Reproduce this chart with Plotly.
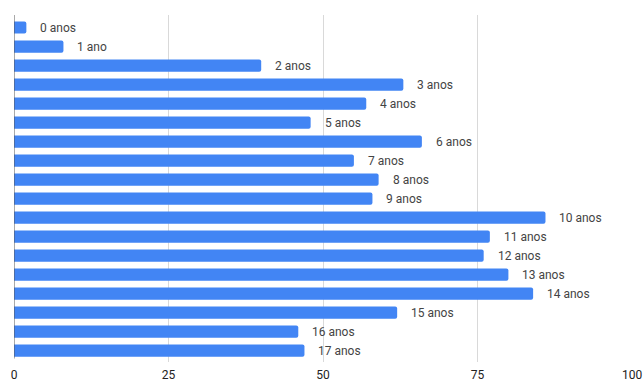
import plotly.graph_objects as go

# Idade (em anos) e contagem por idade
labels = ["0 anos", "1 ano", "2 anos", "3 anos", "4 anos", "5 anos", "6 anos",
          "7 anos", "8 anos", "9 anos", "10 anos", "11 anos", "12 anos",
          "13 anos", "14 anos", "15 anos", "16 anos", "17 anos"]
values = [2, 8, 40, 63, 57, 48, 66, 55, 59, 58, 86, 77, 76, 80, 84, 62, 46, 47]
x_ticks = [0, 25, 50, 75, 100]

positions = list(range(len(labels)))

fig = go.Figure()
fig.add_trace(go.Bar(
    x=values,
    y=positions,
    orientation="h",
    width=0.64,
    marker=dict(color="#4285F4", line=dict(width=0), cornerradius=2),
    hoverinfo="skip",
))

# Rótulo de cada barra, logo à direita da sua ponta
for pos, val, lab in zip(positions, values, labels):
    fig.add_annotation(
        x=val, y=pos, text=lab, showarrow=False,
        xanchor="left", yanchor="middle", xshift=12,
        font=dict(family="Roboto", size=12, color="#444444"),
    )

fig.update_layout(
    width=643, height=381,
    margin=dict(l=14, r=11, t=15, b=19, autoexpand=False),
    paper_bgcolor="white", plot_bgcolor="white",
    showlegend=False,
    font=dict(family="Roboto", size=12, color="#222222"),
    xaxis=dict(
        range=[0, 100], tickvals=x_ticks, ticktext=[str(t) for t in x_ticks],
        showgrid=True, gridcolor="#d9d9d9", gridwidth=1,
        zeroline=False, showline=False, ticks="", automargin=False,
        ticklabelstandoff=4,
        tickfont=dict(family="Roboto", size=12, color="#222222"),
        fixedrange=True,
    ),
    yaxis=dict(
        range=[17.6, -0.66], showticklabels=False, showgrid=False,
        zeroline=False, showline=False, ticks="", automargin=False,
        fixedrange=True,
    ),
)

# Linha de base em x = 0
fig.add_shape(type="line", xref="x", yref="paper", x0=0, x1=0, y0=0.01, y1=1,
              line=dict(color="#555555", width=1), layer="above")

fig.write_html("out.html")
